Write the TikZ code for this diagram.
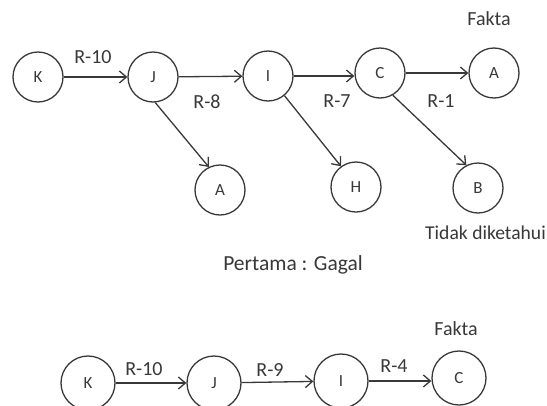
\documentclass[tikz,border=0pt]{standalone}
\usepackage{fontspec}
\setmainfont{Carlito}
\usetikzlibrary{arrows.meta}
\definecolor{ink}{HTML}{383838}
\begin{document}
\begin{tikzpicture}[x=1pt,y=-1pt,
  st/.style={circle,draw=ink,line width=1.3pt,minimum size=50pt,inner sep=0pt,font=\fontsize{17}{18}\selectfont,text=ink},
  stb/.style={st,minimum size=54pt},
  lbl/.style={font=\fontsize{20}{22}\selectfont,text=ink,inner sep=0pt,anchor=base},
  arr/.style={draw=ink,line width=1.3pt,-{Straight Barb[length=7pt,width=12pt]}}]
\useasboundingbox (0,0) rectangle (547,405);
\clip (0,0) rectangle (547,405);
% top diagram
\node[st] (K) at (38,77) {K};
\node[st] (J) at (153,77) {J};
\node[st] (I) at (268,76) {I};
\node[st] (C) at (380,73) {C};
\node[st] (A) at (494,73) {A};
\node[st] (A2) at (220,190) {A};
\node[st] (H) at (356,187) {H};
\node[st] (B) at (478,188) {B};
\draw[arr] (K) -- (J);
\draw[arr] (J) -- (I);
\draw[arr] (I.east) -- (I.east -| C.west);
\draw[arr] (C) -- (A);
\draw[arr] (J.-85) -- (A2.116);
\draw[arr] (I.-50) -- (H.126);
\draw[arr] (C.-60) -- (B.117);
\node[lbl] (l1) at (93,63) {R-10};
\node[lbl] (l2) at (207,108) {R-8};
\node[lbl] (l3) at (337,107) {R-7};
\node[lbl] (l4) at (441,107) {R-1};
\node[lbl] (f1) at (489,25) {Fakta};
\node[lbl,anchor=base east,font=\fontsize{19.6}{21}\selectfont] (td) at (546,239) {Tidak diketahui};
\node[lbl,font=\fontsize{21.5}{23}\selectfont] (pg) at (293,270) {Pertama : Gagal};
% bottom diagram
\node[stb] (K2) at (88,383) {K};
\node[stb] (J2) at (214,383) {J};
\node[stb] (I2) at (341,381) {I};
\node[stb] (C2) at (459,378) {C};
\draw[arr] (K2) -- (J2);
\draw[arr] (J2) -- (I2);
\draw[arr] (I2.east) -- (I2.east -| C2.west);
\node[lbl] (m1) at (144,375) {R-10};
\node[lbl] (m2) at (270,376) {R-9};
\node[lbl] (m3) at (394,372) {R-4};
\node[lbl] (f2) at (456,335) {Fakta};
\end{tikzpicture}
\end{document}
